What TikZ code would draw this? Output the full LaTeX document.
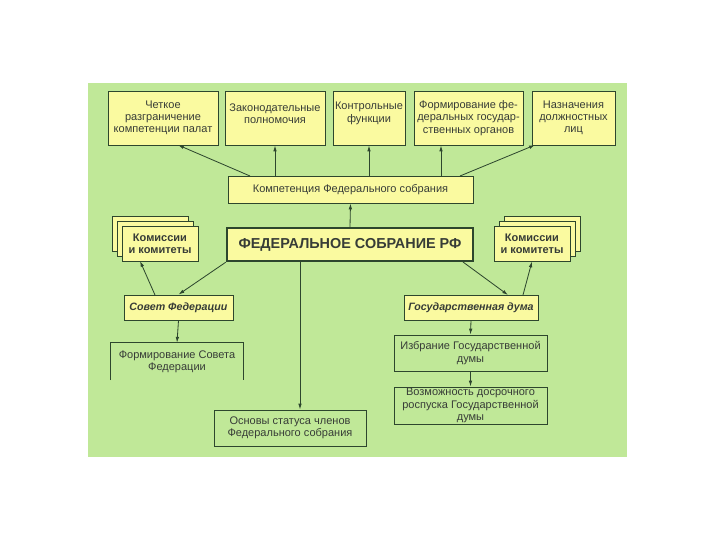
\documentclass[tikz,border=0pt]{standalone}
\usepackage{fontspec}
\setmainfont{Liberation Sans}
\usepackage{tikz}
\usetikzlibrary{fit}
\usetikzlibrary{arrows.meta}
\definecolor{panelgreen}{RGB}{192,232,152}
\definecolor{boxyellow}{RGB}{250,250,160}
\definecolor{linegreen}{RGB}{45,70,45}
\definecolor{textgray}{RGB}{55,60,55}

\begin{document}
\begin{tikzpicture}[x=0.03cm, y=-0.03cm,
	box/.style={draw=linegreen, fill=boxyellow, inner sep=0pt, line width=0.8pt},
	plainbox/.style={draw=linegreen, inner sep=0pt, line width=0.8pt},
	every label/.style={align=center, text=textgray, font=\fontsize{9.4}{10.4}\selectfont},
	boldlabel/.style={font=\bfseries\fontsize{9.4}{10.6}\selectfont},
	italiclabel/.style={font=\bfseries\itshape\fontsize{9.1}{10}\selectfont},
	arr/.style={draw=linegreen, line width=0.7pt, -{Latex[length=5pt,width=3pt]}}]
	\useasboundingbox (0,0) rectangle (720,540);
	\fill[panelgreen] (88,83) rectangle (627,457);						% green panel

	\node[box, fit={(108,91) (218,145)}, label=center:{Четкое\\разграничение\\компетенции палат}] (T1) {};	% upper boxes
	\node[box, fit={(225,91) (325,145)}, label={[yshift=4pt]center:{Законодательные\\полномочия}}] (T2) {};
	\node[box, fit={(333,91) (405,145)}, label={[yshift=4pt]center:{Контрольные\\функции}}] (T3) {};
	\node[box, fit={(414,91) (523,145)}, label=center:{Формирование фе-\\деральных государ-\\ственных органов}] (T4) {};
	\node[box, fit={(532,91) (615,145)}, label=center:{Назначения\\должностных\\лиц}] (T5) {};

	\node[box, fit={(228,176) (473,203)}, label=center:{Компетенция Федерального собрания}] (K) {};
	\node[box, line width=2pt, fit={(227,228) (473,261)}, label={[font=\bfseries\fontsize{12.3}{14}\selectfont]center:ФЕДЕРАЛЬНОЕ СОБРАНИЕ РФ}] (F) {};

	\node[box, fit={(112,216) (188,251)}] (CL3) {};					% stacked commissions
	\node[box, fit={(117,221) (193,256)}] (CL2) {};
	\node[box, fit={(122,226) (198,261)}, label={[boldlabel]center:{Комиссии\\и комитеты}}] (CL) {};
	\node[box, fit={(504,216) (580,251)}] (CR3) {};
	\node[box, fit={(499,221) (575,256)}] (CR2) {};
	\node[box, fit={(494,226) (570,261)}, label={[boldlabel]center:{Комиссии\\и комитеты}}] (CR) {};

	\node[box, fit={(124,295) (233,320)}, label={[italiclabel]center:Совет Федерации}] (SF) {};	% chambers
	\node[box, fit={(404,295) (538,320)}, label={[italiclabel]center:Государственная дума}] (GD) {};

	\node[inner sep=0pt, fit={(111,343) (243,380)}, label=center:{Формирование Совета\\Федерации}] (FS) {};	% lower boxes
	\draw[linegreen, line width=0.8pt] (FS.south west) -- (FS.north west) -- (FS.north east) -- (FS.south east);
	\node[plainbox, fit={(214,410) (366,446)}, label=center:{Основы статуса членов\\Федерального собрания}] (OS) {};
	\node[plainbox, fit={(394,335) (547,371)}, label=center:{Избрание Государственной\\думы}] (IG) {};
	\node[plainbox, fit={(394,387) (547,424)}, label=center:{Возможность досрочного\\роспуска Государственной\\думы}] (VD) {};

	\coordinate (k1) at (250,176);							% arrow ends
	\coordinate (t1) at (178,145);
	\coordinate (k4) at (441,176);
	\coordinate (k5) at (460,176);
	\coordinate (t5) at (535,145);
	\coordinate (s1) at (155,295);
	\coordinate (c1) at (140,261);
	\coordinate (f1) at (463,262);
	\coordinate (g1) at (508,295);
	\coordinate (g2) at (523,295);
	\coordinate (f3) at (300,261);

	\draw[arr] (k1) -- (t1);								% arrows
	\draw[arr] (K.north -| T2.south) -- (T2.south);
	\draw[arr] (K.north -| T3.south) -- (T3.south);
	\draw[arr] (k4) -- (k4 |- T4.south);
	\draw[arr] (k5) -- (t5);
	\draw[arr] (F.north) -- (K.south);
	\draw[arr] (F.south west) -- (SF.north);
	\draw[arr] (s1) -- (c1);
	\draw[arr] (f1) -- (g1);
	\draw[arr] (g2) -- (CR.south);
	\draw[arr] (f3) -- (f3 |- OS.north);
	\draw[arr] (SF.south) -- (FS.north);
	\draw[arr] (GD.south) -- (IG.north);
	\draw[arr] (IG.south) -- (VD.north);
\end{tikzpicture}
\end{document}
